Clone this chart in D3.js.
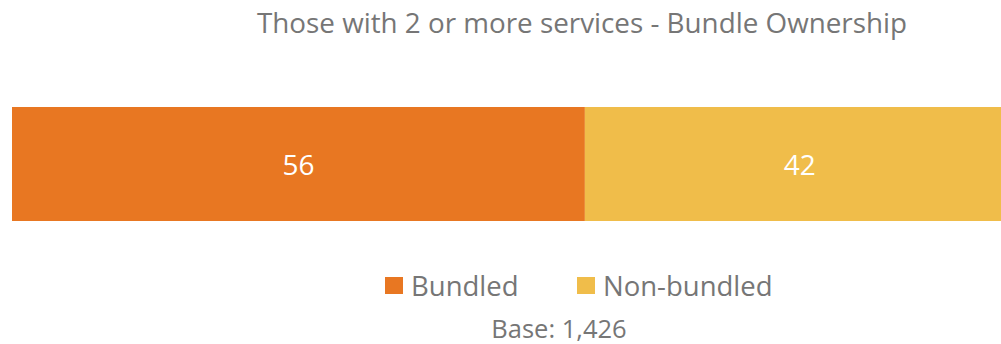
<!DOCTYPE html>
<html>
<head>
<meta charset="utf-8">
<script src="https://cdn.jsdelivr.net/npm/d3@7"></script>
<style>
  html, body { margin: 0; padding: 0; background: #fff; overflow: hidden; }
  svg { display: block; font-family: "Open Sans", "Noto Sans", sans-serif; }
</style>
</head>
<body>
<svg id="chart" width="1001" height="344"></svg>
<script>
// Share of respondents with 2+ services, by bundle ownership
const categories = ["Bundled", "Non-bundled"];
const values = [56, 42];
const colors = ["#E87722", "#F0BD4A"];
const title = "Those with 2 or more services - Bundle Ownership";
const baseNote = "Base: 1,426";

const svg = d3.select("#chart");
const textColor = "#767676";

// Horizontal scale for the stacked bar (percent)
const x = d3.scaleLinear().domain([0, 100]).range([12, 1035]);
const y = d3.scaleBand().domain(["all"]).range([107, 221]).padding(0);

// Cumulative starts for stacking
let acc = 0;
const segs = values.map((v, i) => {
  const s = { key: categories[i], v, x0: acc, x1: acc + v, color: colors[i] };
  acc += v;
  return s;
});

svg.append("text")
  .attr("x", 582).attr("y", 33)
  .attr("text-anchor", "middle")
  .attr("fill", textColor)
  .attr("font-size", 27.8)
  .text(title);

const g = svg.append("g");
g.selectAll("rect").data(segs).join("rect")
  .attr("x", d => x(d.x0))
  .attr("y", y("all"))
  .attr("width", d => x(d.x1) - x(d.x0))
  .attr("height", y.bandwidth())
  .attr("fill", d => d.color);

g.selectAll("text").data(segs).join("text")
  .attr("x", d => (x(d.x0) + x(d.x1)) / 2)
  .attr("y", 175)
  .attr("text-anchor", "middle")
  .attr("fill", "#ffffff")
  .attr("font-size", 28)
  .text(d => d.v);

// Legend
const legendX = [385, 577];
const lg = svg.append("g");
const items = lg.selectAll("g").data(segs).join("g")
  .attr("transform", (d, i) => `translate(${legendX[i]},0)`);
items.append("rect")
  .attr("x", 0).attr("y", 277)
  .attr("width", 18).attr("height", 17)
  .attr("fill", d => d.color);
items.append("text")
  .attr("x", 26).attr("y", 296)
  .attr("fill", textColor)
  .attr("font-size", 27.5)
  .text(d => d.key);

svg.append("text")
  .attr("x", 559).attr("y", 338)
  .attr("text-anchor", "middle")
  .attr("fill", textColor)
  .attr("font-size", 25.5)
  .text(baseNote);
</script>
</body>
</html>
